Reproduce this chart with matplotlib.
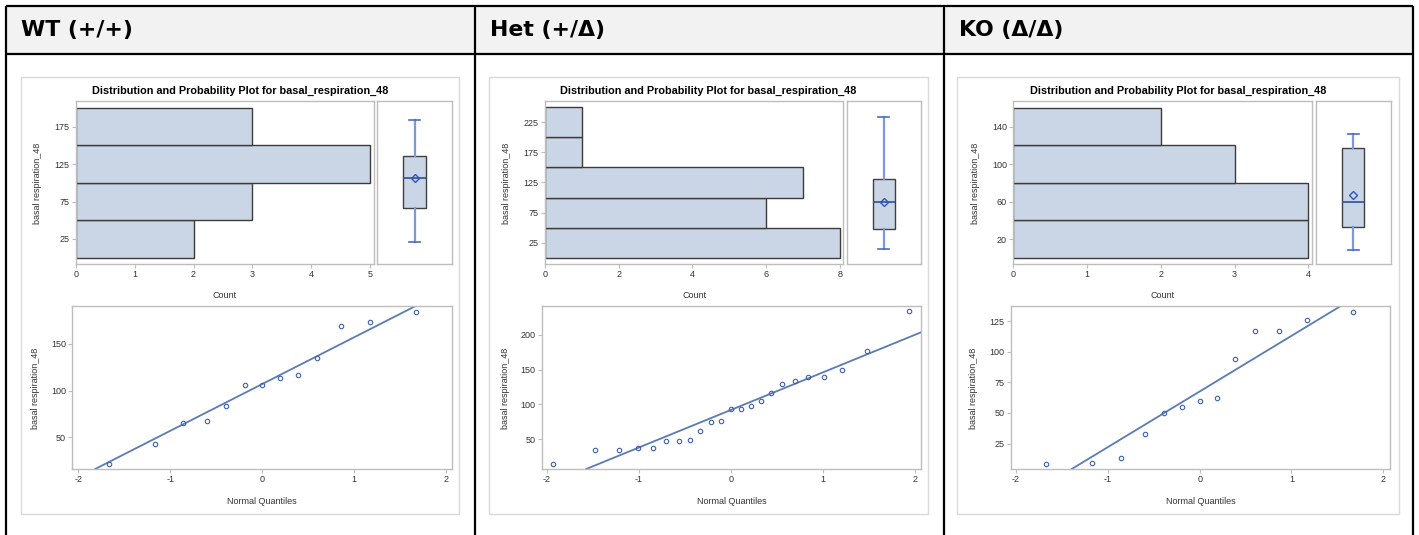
import numpy as np
import matplotlib
matplotlib.use("Agg")
import matplotlib.pyplot as plt
from matplotlib.patches import Rectangle

# --- data ---
groups = ["WT (+/+)", "Het (+/Δ)", "KO (Δ/Δ)"]

wt_edges = [0, 50, 100, 150, 200]
wt_counts = [2, 3, 5, 3]
het_edges = [0, 50, 100, 150, 200, 250]
het_counts = [8, 6, 7, 1, 1]
ko_edges = [0, 40, 80, 120, 160]
ko_counts = [4, 4, 3, 2]

# box stats: whisker low, q1, median, q3, whisker high, mean
wt_box = [21, 67, 106, 136, 184, 106]
het_box = [15, 47, 92, 131, 234, 92]
ko_box = [8.5, 32.5, 60, 117, 132.5, 67.4]

wt_q = [-1.67, -1.17, -0.86, -0.60, -0.39, -0.19, 0, 0.19, 0.39, 0.60, 0.86, 1.17, 1.67]
wt_v = [21, 43, 65, 67, 84, 106, 106, 113, 117, 135, 169, 173, 184]
het_q = [-1.93, -1.48, -1.21, -1.01, -0.84, -0.70, -0.56, -0.44, -0.33, -0.22, -0.11, 0,
         0.11, 0.22, 0.33, 0.44, 0.56, 0.70, 0.84, 1.01, 1.21, 1.48, 1.93]
het_v = [15, 34, 34, 37, 37, 48, 48, 49, 62, 74, 76, 93, 93, 97, 105, 117, 129, 133,
         140, 140, 149, 177, 234]
ko_q = [-1.67, -1.17, -0.86, -0.60, -0.39, -0.19, 0, 0.19, 0.39, 0.60, 0.86, 1.17, 1.67]
ko_v = [8.6, 9.4, 13.5, 33, 50, 55, 60, 62, 94, 117, 117, 126, 133]

# normal reference line (mean, std)
wt_ref = (107, 50)
het_ref = (92, 54)
ko_ref = (67.6, 45.5)

wt_hyticks = [25, 75, 125, 175]
het_hyticks = [25, 75, 125, 175, 225]
ko_hyticks = [20, 60, 100, 140]
wt_hxticks = [0, 1, 2, 3, 4, 5]
het_hxticks = [0, 2, 4, 6, 8]
ko_hxticks = [0, 1, 2, 3, 4]
wt_qyticks = [50, 100, 150]
het_qyticks = [50, 100, 150, 200]
ko_qyticks = [25, 50, 75, 100, 125]
qxticks = [-2, -1, 0, 1, 2]

# --- layout (pixels) ---
W, H = 1419, 535
fig = plt.figure(figsize=(W / 100, H / 100), dpi=100)

def add_ax(x0, y0, x1, y1):
    return fig.add_axes([x0 / W, 1 - y1 / H, (x1 - x0) / W, (y1 - y0) / H])

bg = fig.add_axes([0, 0, 1, 1])
bg.set_xlim(0, W)
bg.set_ylim(H, 0)
bg.axis("off")

bg.add_patch(Rectangle((6, 5.5), 1406.5, 48.5, facecolor="#f2f2f2", edgecolor="none"))
for x in [6, 475, 944, 1412.5]:
    bg.plot([x, x], [5.5, 535], color="black", lw=1.6, solid_capstyle="butt")
for y in [5.5, 54]:
    bg.plot([6, 1412.5], [y, y], color="black", lw=1.6, solid_capstyle="butt")

head_x = [21, 490, 959]
for x, g in zip(head_x, groups):
    bg.text(x, 30, g, fontsize=15.8, fontweight="bold", va="center", ha="left",
            family=["DejaVu Sans"])

panels = [
    dict(frame=(20.7, 459), hist=(76, 374), box=(377, 452), qq=(72.3, 452.3),
         edges=wt_edges, counts=wt_counts, bx=wt_box, q=wt_q, v=wt_v, ref=wt_ref,
         hylim=(-8.4, 209.3), hxlim=(0, 5.07), qxlim=(-2.067, 2.067), qylim=(16.1, 190.4),
         hyt=wt_hyticks, hxt=wt_hxticks, qyt=wt_qyticks, ylab_h=37.3, ylab_q=35),
    dict(frame=(489, 928), hist=(545, 843.3), box=(846.7, 921), qq=(541.7, 921),
         edges=het_edges, counts=het_counts, bx=het_box, q=het_q, v=het_v, ref=het_ref,
         hylim=(-10.5, 260.5), hxlim=(0, 8.09), qxlim=(-2.054, 2.065), qylim=(7.2, 241.3),
         hyt=het_hyticks, hxt=het_hxticks, qyt=het_qyticks, ylab_h=506.7, ylab_q=505),
    dict(frame=(957, 1399), hist=(1013.3, 1312.3), box=(1315.7, 1390.7), qq=(1010.7, 1390),
         edges=ko_edges, counts=ko_counts, bx=ko_box, q=ko_q, v=ko_v, ref=ko_ref,
         hylim=(-6.7, 167.4), hxlim=(0, 4.054), qxlim=(-2.058, 2.073), qylim=(4.2, 137.5),
         hyt=ko_hyticks, hxt=ko_hxticks, qyt=ko_qyticks, ylab_h=975, ylab_q=973),
]

FONT = "Liberation Sans"
frame_c = "#bdbdbd"
fill_c = "#cad5e5"
bar_edge = "#3c3c3c"
blue = "#3f5fb0"

def style(ax):
    for s in ax.spines.values():
        s.set_color(frame_c)
        s.set_linewidth(1)
    ax.tick_params(colors=frame_c, labelcolor="#333333", labelsize=6.5, length=3, pad=1.5)
    for lab in ax.get_xticklabels() + ax.get_yticklabels():
        lab.set_family(FONT)

for p in panels:
    fx0, fx1 = p["frame"]
    bg.add_patch(Rectangle((fx0, 76.7), fx1 - fx0, 514 - 76.7, facecolor="none",
                           edgecolor="#d9d9d9", lw=1))
    hx0, hx1 = p["hist"]
    bg.text((fx0 + fx1) / 2, 91, "Distribution and Probability Plot for basal_respiration_48",
            ha="center", va="center", fontsize=7.8, fontweight="bold", family=FONT)

    # histogram
    ax = add_ax(hx0, 101, hx1, 264)
    edges = np.array(p["edges"])
    ax.barh(edges[:-1], p["counts"], height=np.diff(edges), align="edge",
            color=fill_c, edgecolor=bar_edge, linewidth=1)
    ax.set_xlim(*p["hxlim"])
    ax.set_ylim(*p["hylim"])
    ax.set_xticks(p["hxt"])
    ax.set_yticks(p["hyt"])
    style(ax)
    bg.text((hx0 + hx1) / 2, 296, "Count", ha="center", va="center", fontsize=6.5,
            family=FONT, color="#333333")
    bg.text(p["ylab_h"], 183, "basal respiration_48", ha="center", va="center",
            rotation=90, fontsize=6.5, family=FONT, color="#333333")

    # box plot
    bax = add_ax(p["box"][0], 101, p["box"][1], 264)
    lo, q1, med, q3, hi, mean = p["bx"]
    stats = [dict(whislo=lo, q1=q1, med=med, q3=q3, whishi=hi, mean=mean)]
    bax.bxp(stats, positions=[0], widths=0.3, capwidths=[0.15], showmeans=True,
            showfliers=False, patch_artist=True,
            boxprops=dict(facecolor=fill_c, edgecolor="#404040", lw=1),
            whiskerprops=dict(color="#7b9ad6", lw=1.6),
            capprops=dict(color="#4a6cc0", lw=1.2),
            medianprops=dict(color="#2f4f9f", lw=1.2),
            meanprops=dict(marker="D", markerfacecolor="none", markeredgecolor="#2f55c0",
                           markersize=4.5, markeredgewidth=1))
    bax.set_xlim(-0.5, 0.5)
    bax.set_ylim(*p["hylim"])
    bax.set_xticks([])
    bax.set_yticks([])
    style(bax)

    # Q-Q plot
    qx0, qx1 = p["qq"]
    qax = add_ax(qx0, 306, qx1, 469)
    mu, sd = p["ref"]
    qax.axline((0, mu), slope=sd, color="#5a7bb5", lw=1.3)
    qax.plot(p["q"], p["v"], "o", mfc="none", mec=blue, ms=3.2, mew=0.8)
    qax.set_xlim(*p["qxlim"])
    qax.set_ylim(*p["qylim"])
    qax.set_xticks(qxticks)
    qax.set_xticklabels([str(t) for t in qxticks])
    qax.set_yticks(p["qyt"])
    style(qax)
    bg.text((qx0 + qx1) / 2, 501, "Normal Quantiles", ha="center", va="center",
            fontsize=6.5, family=FONT, color="#333333")
    bg.text(p["ylab_q"], 388, "basal respiration_48", ha="center", va="center",
            rotation=90, fontsize=6.5, family=FONT, color="#333333")

fig.savefig("out.png", dpi=100)
